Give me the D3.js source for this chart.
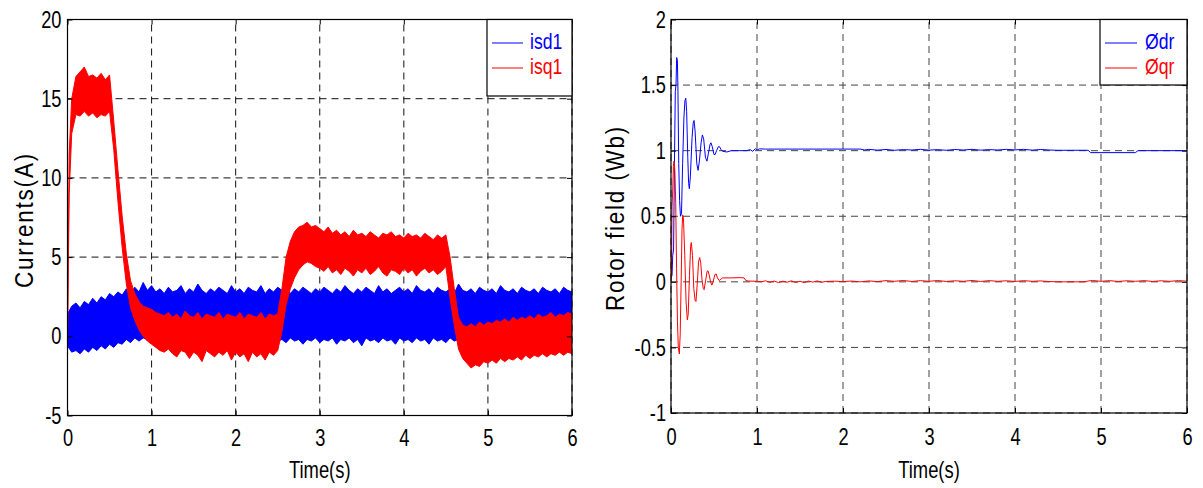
<!DOCTYPE html>
<html>
<head>
  <meta charset="utf-8">
  <script src="https://d3js.org/d3.v7.min.js"></script>
  <style>
    body { margin: 0; background: #fff; }
    text { font-family: "Liberation Sans", Arial, sans-serif; }
  </style>
</head>
<body>
<svg id="chart" width="1203" height="488"></svg>
<script>
"use strict";

// ---- data ----
// stator currents: [time, lower edge of ripple band, upper edge of ripple band]
var isd1 = [
  [0.00,-0.6,1.4],[0.05,-1.0,1.9],[0.10,-0.9,2.1],[0.15,-1.1,1.8],[0.20,-0.8,2.2],[0.25,-1.0,2.0],
  [0.30,-0.7,2.4],[0.35,-0.9,2.1],[0.40,-0.6,2.5],[0.45,-0.8,2.3],[0.50,-0.5,2.7],[0.55,-0.7,2.5],
  [0.60,-0.4,2.8],[0.65,-0.5,2.6],[0.70,-0.2,3.0],[0.75,-0.4,2.7],[0.80,-0.1,3.1],[0.85,-0.3,2.8],
  [0.90,-0.1,3.4],[0.95,-0.2,2.9],[1.00,-0.4,3.2],[1.05,-0.1,2.8],[1.10,-0.3,3.0],[1.15,-0.2,2.7],
  [1.20,-0.5,3.1],[1.25,-0.1,2.8],[1.30,-0.3,2.9],[1.35,-0.2,3.2],[1.40,-0.4,2.7],[1.45,-0.1,3.0],
  [1.50,-0.3,2.8],[1.55,-0.2,3.3],[1.60,-0.5,2.9],[1.65,-0.1,2.7],[1.70,-0.3,3.0],[1.75,-0.2,2.8],
  [1.80,-0.4,3.1],[1.85,-0.1,2.9],[1.90,-0.3,2.7],[1.95,-0.2,3.2],[2.00,-0.5,2.8],[2.05,-0.1,3.0],
  [2.10,-0.3,2.7],[2.15,-0.2,3.1],[2.20,-0.4,2.9],[2.25,-0.1,2.8],[2.30,-0.3,3.2],[2.35,-0.2,2.7],
  [2.40,-0.5,3.0],[2.45,-0.1,2.8],[2.50,-0.3,3.1],[2.55,-0.2,2.9],[2.60,-0.4,3.2],[2.65,-0.1,2.7],
  [2.70,-0.3,3.0],[2.75,-0.2,2.8],[2.80,-0.5,3.1],[2.85,-0.2,2.9],[2.90,-0.3,2.7],[2.95,-0.1,3.0],
  [3.00,-0.4,2.8],[3.05,-0.2,3.1],[3.10,-0.3,2.9],[3.15,-0.1,2.7],[3.20,-0.5,3.0],[3.25,-0.2,2.8],
  [3.30,-0.3,3.2],[3.35,-0.1,2.9],[3.40,-0.4,2.7],[3.45,-0.2,3.0],[3.50,-0.6,2.8],[3.55,-0.1,3.1],
  [3.60,-0.3,2.9],[3.65,-0.2,2.7],[3.70,-0.4,3.2],[3.75,-0.1,2.8],[3.80,-0.3,3.0],[3.85,-0.2,2.7],
  [3.90,-0.5,2.9],[3.95,-0.1,3.1],[4.00,-0.3,2.8],[4.05,-0.2,3.0],[4.10,-0.4,2.7],[4.15,-0.1,3.2],
  [4.20,-0.3,2.9],[4.25,-0.2,2.8],[4.30,-0.5,3.0],[4.35,-0.1,2.7],[4.40,-0.3,3.1],[4.45,-0.2,2.9],
  [4.50,-0.4,2.8],[4.55,-0.1,3.0],[4.60,-0.3,2.7],[4.65,-0.2,3.3],[4.70,-0.5,2.9],[4.75,-0.1,2.8],
  [4.80,-0.3,3.0],[4.85,-0.2,2.7],[4.90,-0.4,3.1],[4.95,-0.1,2.9],[5.00,-0.3,2.8],[5.05,-0.2,3.0],
  [5.10,-0.5,2.7],[5.15,-0.1,3.2],[5.20,-0.3,2.9],[5.25,-0.2,2.8],[5.30,-0.4,3.0],[5.35,-0.1,2.7],
  [5.40,-0.3,3.1],[5.45,-0.2,2.9],[5.50,-0.5,2.8],[5.55,-0.1,3.0],[5.60,-0.3,2.7],[5.65,-0.2,3.1],
  [5.70,-0.4,2.9],[5.75,-0.1,2.8],[5.80,-0.3,3.0],[5.85,-0.2,2.7],[5.90,-0.4,3.1],[5.95,-0.1,2.9],
  [6.00,-0.3,2.8]
];

var isq1 = [
  [0.00,0.0,0.0],[0.02,9.0,11.5],[0.05,12.8,15.0],[0.10,14.0,16.4],[0.15,13.9,16.7],[0.20,14.2,17.0],
  [0.25,13.9,16.4],[0.30,14.1,16.5],[0.35,13.8,16.3],[0.40,14.0,16.6],[0.45,13.9,16.2],[0.50,14.2,16.5],
  [0.55,11.8,13.6],[0.60,8.5,10.5],[0.65,5.6,7.6],[0.70,3.3,5.2],[0.75,1.8,3.5],[0.80,1.0,2.7],
  [0.85,0.4,2.2],[0.90,0.0,1.9],[0.95,-0.3,1.8],[1.00,-0.5,1.7],[1.05,-0.7,1.5],[1.10,-0.9,1.4],
  [1.15,-1.0,1.3],[1.20,-0.8,1.5],[1.25,-1.1,1.2],[1.30,-1.3,1.4],[1.35,-0.9,1.1],[1.40,-1.0,1.6],
  [1.45,-1.4,1.3],[1.50,-1.0,1.2],[1.55,-1.2,1.5],[1.60,-1.6,1.1],[1.65,-0.9,1.4],[1.70,-1.1,1.3],
  [1.75,-1.3,1.2],[1.80,-1.0,1.5],[1.85,-1.2,1.1],[1.90,-0.9,1.4],[1.95,-1.5,1.3],[2.00,-1.0,1.2],
  [2.05,-1.3,1.5],[2.10,-1.1,1.1],[2.15,-1.6,1.4],[2.20,-1.0,1.3],[2.25,-1.3,1.2],[2.30,-1.1,1.5],
  [2.35,-1.5,1.1],[2.40,-1.0,1.4],[2.45,-1.2,1.3],[2.50,-0.9,1.4],[2.55,0.3,3.0],[2.60,2.0,5.0],
  [2.65,3.0,6.0],[2.70,3.7,6.6],[2.75,4.2,6.9],[2.80,4.5,7.0],[2.85,4.7,7.2],[2.90,4.6,6.9],
  [2.95,4.4,7.0],[3.00,4.3,6.8],[3.05,4.1,6.6],[3.10,4.4,6.9],[3.15,4.0,6.5],[3.20,4.2,6.7],
  [3.25,3.9,6.4],[3.30,4.3,6.6],[3.35,4.1,6.3],[3.40,3.8,6.7],[3.45,4.2,6.4],[3.50,4.0,6.5],
  [3.55,4.3,6.3],[3.60,3.9,6.6],[3.65,4.1,6.4],[3.70,4.4,6.2],[3.75,4.0,6.5],[3.80,3.8,6.4],
  [3.85,4.2,6.6],[3.90,4.1,6.3],[3.95,3.9,6.4],[4.00,4.3,6.2],[4.05,4.0,6.5],[4.10,4.2,6.3],
  [4.15,3.8,6.4],[4.20,4.1,6.2],[4.25,4.3,6.5],[4.30,4.0,6.3],[4.35,4.2,6.1],[4.40,3.9,6.4],
  [4.45,4.1,6.2],[4.50,4.4,6.4],[4.55,2.4,5.0],[4.60,0.7,3.0],[4.65,-0.8,1.2],[4.70,-1.4,0.7],
  [4.75,-1.7,0.6],[4.80,-2.0,0.8],[4.85,-1.8,0.6],[4.90,-1.9,0.9],[4.95,-1.6,0.7],[5.00,-1.7,0.9],
  [5.05,-1.5,0.8],[5.10,-1.7,1.0],[5.15,-1.4,0.9],[5.20,-1.6,1.1],[5.25,-1.4,0.9],[5.30,-1.5,1.2],
  [5.35,-1.3,1.0],[5.40,-1.5,1.2],[5.45,-1.2,1.1],[5.50,-1.4,1.3],[5.55,-1.2,1.1],[5.60,-1.3,1.4],
  [5.65,-1.1,1.2],[5.70,-1.3,1.3],[5.75,-1.1,1.5],[5.80,-1.2,1.2],[5.85,-1.0,1.4],[5.90,-1.2,1.3],
  [5.95,-1.0,1.5],[6.00,-1.1,1.4]
];

// rotor flux components: [time, value]
var phiDr = [
  [0,0.03],[0.012,0.05],[0.02,0.2],[0.03,0.25],[0.04,0.9],[0.05,1.45],[0.058,1.5],[0.066,1.71],
  [0.074,1.69],[0.08,1.5],[0.09,0.9],[0.1,0.62],[0.11,0.5],[0.122,0.52],[0.135,0.9],[0.15,1.25],
  [0.162,1.38],[0.172,1.4],[0.182,1.3],[0.195,0.95],[0.205,0.75],[0.213,0.71],[0.225,0.8],
  [0.245,1.1],[0.258,1.21],[0.268,1.23],[0.28,1.15],[0.3,0.9],[0.315,0.85],[0.33,0.92],[0.35,1.06],
  [0.365,1.12],[0.38,1.09],[0.4,0.95],[0.418,0.92],[0.435,0.98],[0.455,1.05],[0.465,1.06],
  [0.48,1.03],[0.5,0.97],[0.512,0.97],[0.53,1.0],[0.55,1.03],[0.565,1.03],[0.58,1.01],[0.6,0.995],
  [0.65,0.99],[0.7,1.0],[0.8,1.0],[0.88,1.0],[0.92,1.008],[0.95,0.995],[0.98,1.015],[1.0,1.005],
  [1.03,1.014],[1.1,1.012],[1.5,1.012],[2.0,1.012],[2.2,1.012],[2.25,1.005],[2.3,1.01],[2.4,1.004],
  [2.5,1.009],[2.6,1.003],[2.7,1.008],[2.8,1.005],[2.9,1.01],[3.0,1.004],[3.1,1.008],[3.2,1.003],
  [3.3,1.009],[3.4,1.005],[3.5,1.01],[3.6,1.004],[3.7,1.008],[3.8,1.005],[3.9,1.01],[4.0,1.006],
  [4.1,1.01],[4.2,1.004],[4.3,1.009],[4.4,1.005],[4.5,1.003],[4.85,1.003],[4.88,0.985],
  [5.4,0.985],[5.43,1.0],[6,1.0]
];

var phiQr = [
  [0,0],[0.006,0.05],[0.012,0.57],[0.02,0.7],[0.028,0.88],[0.035,0.92],[0.045,0.85],[0.055,0.6],
  [0.065,0.1],[0.075,-0.3],[0.085,-0.5],[0.097,-0.55],[0.107,-0.4],[0.118,0.0],[0.128,0.4],
  [0.136,0.51],[0.145,0.48],[0.16,0.2],[0.175,-0.15],[0.19,-0.29],[0.2,-0.25],[0.215,0.05],
  [0.228,0.27],[0.236,0.3],[0.25,0.2],[0.265,-0.05],[0.28,-0.14],[0.29,-0.15],[0.305,-0.02],
  [0.32,0.15],[0.333,0.185],[0.345,0.15],[0.36,0.02],[0.375,-0.05],[0.385,-0.06],[0.4,0.0],
  [0.42,0.08],[0.43,0.085],[0.445,0.05],[0.46,0.0],[0.475,-0.025],[0.49,0.0],[0.51,0.055],
  [0.525,0.06],[0.54,0.03],[0.56,0.01],[0.58,0.02],[0.6,0.03],[0.7,0.03],[0.8,0.032],[0.85,0.03],
  [0.87,0.01],[0.9,0.006],[1.0,0.004],[1.05,0.0],[1.1,0.008],[1.15,-0.004],[1.2,0.006],
  [1.25,-0.006],[1.3,0.005],[1.35,-0.003],[1.4,0.008],[1.45,-0.005],[1.5,0.004],[1.55,-0.006],
  [1.6,0.006],[1.65,-0.002],[1.7,0.007],[1.75,-0.004],[1.8,0.003],[1.9,0.005],[2.0,0.002],
  [2.1,0.006],[2.2,0.0],[2.3,0.007],[2.4,0.002],[2.5,0.009],[2.6,0.004],[2.7,0.01],[2.8,0.003],
  [2.9,0.009],[3.0,0.004],[3.1,0.01],[3.2,0.003],[3.3,0.008],[3.4,0.004],[3.5,0.01],[3.6,0.003],
  [3.7,0.009],[3.8,0.004],[3.9,0.008],[4.0,0.003],[4.1,0.009],[4.2,0.004],[4.3,0.007],[4.4,0.002],
  [4.5,0.0],[4.8,0.0],[4.85,0.006],[4.9,0.01],[5.0,0.004],[5.1,0.009],[5.2,0.003],[5.3,0.008],
  [5.4,0.004],[5.5,0.009],[5.6,0.003],[5.7,0.008],[5.8,0.004],[5.9,0.009],[6.0,0.005]
];

var timeTicks = [0, 1, 2, 3, 4, 5, 6];
var currentTicks = [-5, 0, 5, 10, 15, 20];
var fluxTicks = [-1, -0.5, 0, 0.5, 1, 1.5, 2];
var leftLegend = ["isd1", "isq1"];
var rightLegend = ["\u00d8dr", "\u00d8qr"];
var blue = "#0000ff", red = "#ff0000";

var svg = d3.select("#chart");
var sx = 0.8;    // labels in the figure use a condensed face
var tickSx = 0.76;

function panel(opt) {
  var x = d3.scaleLinear().domain([0, 6]).range([opt.x0, opt.x1]);
  var y = d3.scaleLinear().domain(opt.yDomain).range([opt.y1, opt.y0]);
  var g = svg.append("g");

  g.append("clipPath").attr("id", opt.id + "clip")
    .append("rect")
    .attr("x", opt.x0).attr("y", opt.y0)
    .attr("width", opt.x1 - opt.x0).attr("height", opt.y1 - opt.y0);

  // dashed grid
  var grid = g.append("g").attr("stroke", opt.gridColor).attr("stroke-width", 1)
    .attr("stroke-dasharray", "7,5").attr("fill", "none");
  grid.selectAll(".gx").data(timeTicks).join("line")
    .attr("x1", d => x(d)).attr("x2", d => x(d))
    .attr("y1", opt.y1).attr("y2", opt.y0);
  grid.selectAll(".gy").data(opt.ticks).join("line")
    .attr("x1", opt.x0).attr("x2", opt.x1)
    .attr("y1", d => y(d)).attr("y2", d => y(d));

  var plot = g.append("g").attr("clip-path", "url(#" + opt.id + "clip)");
  opt.draw(plot, x, y);

  // axes with inward ticks on all four sides
  var bottom = g.append("g").attr("transform", "translate(0," + opt.y1 + ")")
    .call(d3.axisBottom(x).tickValues(timeTicks).tickSizeInner(-5).tickSizeOuter(0)
      .tickPadding(opt.xPad).tickFormat(d => String(d)));
  var left = g.append("g").attr("transform", "translate(" + opt.x0 + ",0)")
    .call(d3.axisLeft(y).tickValues(opt.ticks).tickSizeInner(-5).tickSizeOuter(0)
      .tickPadding(opt.yPad).tickFormat(d => String(d)));
  g.append("g").attr("transform", "translate(0," + opt.y0 + ")")
    .call(d3.axisTop(x).tickValues(timeTicks).tickSizeInner(-5).tickSizeOuter(0).tickFormat(""));
  g.append("g").attr("transform", "translate(" + opt.x1 + ",0)")
    .call(d3.axisRight(y).tickValues(opt.ticks).tickSizeInner(-5).tickSizeOuter(0).tickFormat(""));
  g.selectAll(".domain").remove();
  g.selectAll(".tick line").attr("stroke", "#000");
  [bottom, left].forEach(function (a) {
    a.selectAll("text").attr("font-size", 24).attr("fill", "#000")
      .attr("font-family", "'Liberation Sans', Arial, sans-serif")
      .attr("transform", "scale(" + tickSx + ",1)");
  });
  bottom.selectAll(".tick text").attr("x", 0);
  left.selectAll(".tick text").attr("x", -opt.yPad / tickSx);

  g.append("rect")
    .attr("x", opt.x0).attr("y", opt.y0)
    .attr("width", opt.x1 - opt.x0).attr("height", opt.y1 - opt.y0)
    .attr("fill", "none").attr("stroke", "#000").attr("stroke-width", 1.2);

  // axis titles
  g.append("text")
    .attr("transform", "translate(" + ((opt.x0 + opt.x1) / 2) + ",478) scale(" + sx + ",1)")
    .attr("text-anchor", "middle").attr("font-size", 23).text("Time(s)");
  g.append("text")
    .attr("transform", "translate(" + opt.ylabX + "," + opt.ylabY + ") rotate(-90) scale(0.9,1)")
    .attr("text-anchor", "middle").attr("font-size", 25).attr("letter-spacing", 2)
    .text(opt.ylabel);

  // legend
  var L = opt.legend;
  g.append("rect").attr("x", L.x0).attr("y", opt.y0)
    .attr("width", opt.x1 - L.x0).attr("height", L.y1 - opt.y0)
    .attr("fill", "#fff").attr("stroke", "#000").attr("stroke-width", 1.2);
  var items = g.selectAll(".leg").data(L.names).join("g")
    .attr("transform", (d, i) => "translate(0," + (L.yFirst + i * 25) + ")");
  items.append("line")
    .attr("x1", L.lx0).attr("x2", L.lx1).attr("y1", 0).attr("y2", 0)
    .attr("stroke", (d, i) => i ? red : blue).attr("stroke-width", 1);
  items.append("text")
    .attr("transform", "translate(" + L.tx + ",6) scale(" + sx + ",1)")
    .attr("font-size", 22).attr("fill", (d, i) => i ? red : blue)
    .text(d => d);
}

// left: stator currents
panel({
  id: "cur", x0: 67.5, x1: 572, y0: 19.5, y1: 415.5,
  yDomain: [-5, 20], ticks: currentTicks, gridColor: "#111",
  xPad: 13, yPad: 6, ylabel: "Currents(A)", ylabX: 33, ylabY: 220,
  legend: { x0: 487, y1: 96, names: leftLegend, yFirst: 43, lx0: 492, lx1: 523, tx: 530 },
  draw: function (plot, x, y) {
    var band = d3.area().x(d => x(d[0])).y0(d => y(d[1])).y1(d => y(d[2]));
    plot.append("path").datum(isd1).attr("d", band)
      .attr("fill", blue).attr("stroke", blue).attr("stroke-width", 1);
    plot.append("path").datum(isq1).attr("d", band)
      .attr("fill", red).attr("stroke", red).attr("stroke-width", 1);
  }
});

// right: rotor field
panel({
  id: "flux", x0: 671, x1: 1187, y0: 19.5, y1: 413,
  yDomain: [-1, 2], ticks: fluxTicks, gridColor: "#444",
  xPad: 15, yPad: 5, ylabel: "Rotor field (Wb)", ylabX: 624, ylabY: 218,
  legend: { x0: 1100, y1: 85, names: rightLegend, yFirst: 43, lx0: 1105, lx1: 1137, tx: 1145 },
  draw: function (plot, x, y) {
    var line = d3.line().x(d => x(d[0])).y(d => y(d[1]));
    plot.append("path").datum(phiDr).attr("d", line)
      .attr("fill", "none").attr("stroke", blue).attr("stroke-width", 1);
    plot.append("path").datum(phiQr).attr("d", line)
      .attr("fill", "none").attr("stroke", red).attr("stroke-width", 1);
  }
});
</script>
</body>
</html>
